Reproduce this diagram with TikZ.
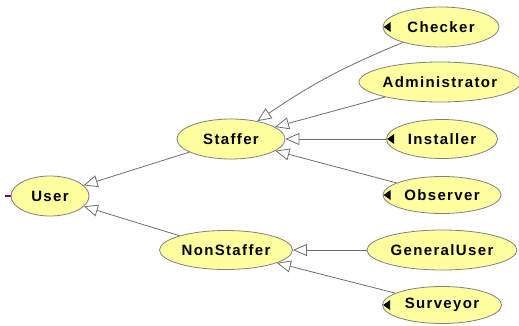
\documentclass[tikz,border=0pt]{standalone}
\usepackage{fontspec}
\setmainfont{Liberation Sans}[LetterSpace=9]
\usetikzlibrary{arrows.meta,shapes.geometric}
\definecolor{nodefill}{RGB}{255,255,160}
\definecolor{nodeline}{RGB}{128,128,128}
\definecolor{edgeline}{RGB}{110,110,110}
\definecolor{tickpurple}{RGB}{128,0,128}
\tikzset{
  cls/.style={ellipse, draw=nodeline, fill=nodefill, line width=0.8pt, inner sep=0pt,
    font=\fontsize{15}{18}\selectfont\bfseries},
  gen/.style={draw=edgeline, line width=0.8pt,
    -{Triangle[open, fill=white, length=14pt, width=12pt]}},
  marker/.style={fill=black, draw=none},
}
\begin{document}
\begin{tikzpicture}[x=1pt, y=-1pt]
\useasboundingbox (0,0) rectangle (519,326);
% nodes
\node[cls, minimum width=78pt, minimum height=40pt] (user) at (50,196) {User};
\node[cls, minimum width=108pt, minimum height=40pt] (staffer) at (231,139) {Staffer};
\node[cls, minimum width=133pt, minimum height=39pt] (nonstaffer) at (226,250) {NonStaffer};
\node[cls, minimum width=116pt, minimum height=40pt] (checker) at (441,27) {Checker};
\node[cls, minimum width=155pt, minimum height=40pt] (admin) at (440,82) {Administrator};
\node[cls, minimum width=111pt, minimum height=39pt] (installer) at (442,139) {Installer};
\node[cls, minimum width=118pt, minimum height=37pt] (observer) at (442,195) {Observer};
\node[cls, minimum width=150pt, minimum height=40pt] (generaluser) at (442,250) {GeneralUser};
\node[cls, minimum width=119pt, minimum height=37pt] (surveyor) at (442,305) {Surveyor};
% black markers at left of some nodes
\foreach \n in {checker, installer, observer, surveyor}{
  \fill[marker] ([xshift=1pt]\n.west) -- ++(7,-5) -- ++(0,10) -- cycle;
}
% purple tick on User
\coordinate (tick) at ([xshift=-6pt]user.west);
\draw[tickpurple, line width=1.8pt] (user.west) -- (tick);
% generalization edges
\draw[gen] (checker) to[bend right=6] (staffer);
\draw[gen] (admin) -- (staffer);
\draw[gen] (installer) -- (staffer);
\draw[gen] (observer) -- (staffer);
\draw[gen] (generaluser) -- (nonstaffer);
\draw[gen] (surveyor) -- (nonstaffer);
\draw[gen] (staffer) -- (user);
\draw[gen] (nonstaffer) -- (user);
\end{tikzpicture}
\end{document}
